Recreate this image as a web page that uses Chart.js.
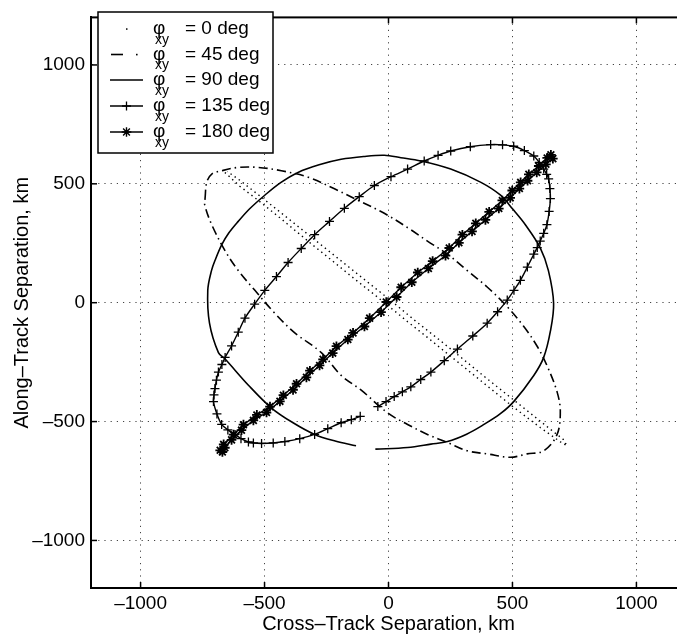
<!DOCTYPE html>
<html><head><meta charset="utf-8">
<script src="https://cdn.jsdelivr.net/npm/chart.js@4.4.0/dist/chart.umd.min.js"></script>
<style>
html,body{margin:0;padding:0;background:#fff;overflow:hidden;width:677px;height:639px}
#wrap{position:absolute;left:0;top:0;width:700px;height:639px}
</style>
</head><body>
<div id="wrap"><canvas id="c" width="700" height="639"></canvas></div>
<script>
// ---------- data ----------
const tickValues = [-1000, -500, 0, 500, 1000];
const tickLabels = ['–1000', '–500', '0', '500', '1000'];
const legendPhases = ['0 deg', '45 deg', '90 deg', '135 deg', '180 deg'];
const xTitle = 'Cross–Track Separation, km';
const yTitle = 'Along–Track Separation, km';

// phi_xy = 0 deg (dotted, thin back-and-forth strand)
const phi0X = [-660,-600,-525,-432,-378,-298,-231,-137,-57,40,77,157,211,318,398,505,612,693,720,
               705,650,560,470,380,290,200,110,20,-70,-160,-250,-340,-430,-520,-600,-650];
const phi0Y = [548,490,430,352,305,236,180,100,34,-48,-80,-146,-192,-282,-350,-440,-525,-585,-602,
               -575,-530,-455,-380,-305,-228,-152,-78,0,75,150,225,300,375,450,515,552];

// phi_xy = 45 deg (dash-dot)
const phi45X = [-740,-733,-713,-673,-606,-525,-432,-324,-218,-124,-17,90,157,238,318,398,479,545,599,639,680,693,680,626,559,492,398,318,238,157,77,-3,-110,-191,-271,-378,-459,-539,-606,-659,-713,-741,-740];
const phi45Y = [438,507,541,555,569,569,555,528,479,431,376,307,259,204,135,66,-17,-99,-182,-264,-375,-457,-554,-623,-636,-650,-636,-623,-588,-554,-512,-464,-368,-306,-210,-127,-44,52,135,218,328,410,438];

// phi_xy = 90 deg (solid)
const phi90X = [-53,77,171,238,315,385,450,505,586,626,653,666,645,612,552,500,452,371,251,131,50,-17,-100,-191,-280,-365,-435,-499,-560,-606,-645,-672,-697,-714,-729,-722,-686,-659,-565,-472,-385,-298,-215,-131];
const phi90Y = [-616,-609,-595,-584,-553,-512,-468,-416,-306,-230,-120,-3,135,231,328,395,452,507,562,596,610,620,615,603,580,548,505,452,395,342,292,245,185,135,52,-86,-210,-237,-347,-443,-505,-554,-582,-602];

// phi_xy = 135 deg (solid with + markers)
const phi135X = [-114,-150,-191,-245,-298,-358,-418,-465,-512,-545,-565,-595,-619,-648,-673,-692,-706,-704,-700,-694,-686,-672,-659,-633,-606,-579,-540,-499,-452,-405,-352,-298,-238,-178,-118,-57,10,77,144,200,251,330,412,460,505,548,586,608,626,638,646,651,653,648,639,626,612,600,586,560,532,506,479,440,398,340,278,225,171,130,90,56,23,-10,-43];
const phi135Y = [-478,-492,-505,-530,-554,-572,-584,-590,-592,-590,-586,-572,-554,-535,-512,-468,-416,-388,-361,-326,-292,-260,-230,-182,-124,-65,-6,52,110,169,228,286,342,397,446,493,530,562,596,620,638,656,665,664,658,640,617,590,562,540,521,480,438,384,328,292,259,232,204,150,94,52,11,-38,-86,-140,-195,-244,-292,-323,-354,-375,-395,-416,-437];

// phi_xy = 180 deg (solid with * markers, out and back along a very thin loop)
const phi180X = [-679,-665,-625,-585,-531,-478,-424,-371,-317,-264,-210,-143,-76,-9,51,118,178,245,298,352,406,459,499,533,566,606,640,655,
                 663,635,598,561,528,491,445,391,337,284,230,161,94,33,-30,-97,-164,-225,-278,-331,-385,-438,-492,-545,-593,-633,-660,-670];
const phi180Y = [-621,-596,-555,-513,-472,-437,-389,-341,-286,-238,-183,-127,-65,3,65,127,175,230,286,334,382,430,472,506,540,575,609,622,
                 606,582,548,513,480,441,396,348,300,252,198,144,86,24,-40,-100,-155,-212,-264,-314,-367,-415,-462,-495,-536,-577,-610,-628];

// ---------- chart ----------
const pts = (xs, ys) => xs.map((x, i) => ({x: x, y: ys[i]}));
const FONT = '"Liberation Sans", Arial, Helvetica, sans-serif';

const styles = [
  {borderDash: [1.4, 3.6], borderWidth: 1.4, pointStyle: false, pointRadius: 0, tension: 0},
  {borderDash: [9, 4, 1.5, 4], borderWidth: 1.6, pointStyle: false, pointRadius: 0, tension: 0.35},
  {borderDash: [], borderWidth: 1.6, pointStyle: false, pointRadius: 0, tension: 0.35},
  {borderDash: [], borderWidth: 1.4, pointStyle: 'cross', pointRadius: 4.5, pointBorderWidth: 1.3, tension: 0.3},
  {borderDash: [], borderWidth: 1.4, pointStyle: 'star', pointRadius: 4.8, pointBorderWidth: 1.8, tension: 0}
];
const seriesX = [phi0X, phi45X, phi90X, phi135X, phi180X];
const seriesY = [phi0Y, phi45Y, phi90Y, phi135Y, phi180Y];

const datasets = seriesX.map((xs, i) => Object.assign({
  label: 'φxy = ' + legendPhases[i],
  data: pts(xs, seriesY[i]),
  showLine: true,
  borderColor: '#000',
  backgroundColor: '#000',
  pointBorderColor: '#000',
  pointBackgroundColor: '#000'
}, styles[i]));

const framePlugin = {
  id: 'frame',
  afterDraw(chart) {
    const ctx = chart.ctx, a = chart.chartArea;
    const xs = chart.scales.x, ys = chart.scales.y;
    ctx.save();
    ctx.strokeStyle = '#000';
    ctx.lineWidth = 2;
    ctx.setLineDash([]);
    ctx.strokeRect(a.left, a.top, a.right - a.left, a.bottom - a.top);
    ctx.lineWidth = 1.5;
    const L = 6;
    tickValues.forEach(v => {
      const px = xs.getPixelForValue(v);
      ctx.beginPath(); ctx.moveTo(px, a.bottom); ctx.lineTo(px, a.bottom - L); ctx.stroke();
      ctx.beginPath(); ctx.moveTo(px, a.top); ctx.lineTo(px, a.top + L); ctx.stroke();
      const py = ys.getPixelForValue(v);
      ctx.beginPath(); ctx.moveTo(a.left, py); ctx.lineTo(a.left + L, py); ctx.stroke();
      ctx.beginPath(); ctx.moveTo(a.right, py); ctx.lineTo(a.right - L, py); ctx.stroke();
    });
    // legend
    const bx = 98, by = 12, bw = 175, bh = 141;
    ctx.fillStyle = '#fff';
    ctx.fillRect(bx, by, bw, bh);
    ctx.lineWidth = 1.5;
    ctx.strokeRect(bx, by, bw, bh);
    const rowY = [29, 54.5, 80, 106, 132];
    rowY.forEach((y, i) => {
      const st = styles[i];
      ctx.save();
      ctx.strokeStyle = '#000';
      ctx.lineWidth = st.borderWidth;
      if (i === 0) {
        ctx.fillStyle = '#000';
        ctx.fillRect(126, y - 0.7, 1.5, 1.5);
      } else if (i === 1) {
        ctx.beginPath(); ctx.moveTo(111, y); ctx.lineTo(123, y); ctx.stroke();
        ctx.fillStyle = '#000';
        ctx.fillRect(136, y - 0.7, 1.6, 1.6);
      } else {
        ctx.beginPath(); ctx.moveTo(110, y); ctx.lineTo(143, y); ctx.stroke();
      }
      if (i === 3) {
        ctx.lineWidth = 1.3;
        ctx.beginPath(); ctx.moveTo(126.5 - 4.5, y); ctx.lineTo(126.5 + 4.5, y);
        ctx.moveTo(126.5, y - 4.5); ctx.lineTo(126.5, y + 4.5); ctx.stroke();
      }
      if (i === 4) {
        Chart.helpers.drawPoint(ctx, {pointStyle: 'star', radius: 4.8, borderWidth: 1.8, rotation: 0}, 126.5, y);
      }
      ctx.fillStyle = '#000';
      ctx.textBaseline = 'middle';
      ctx.textAlign = 'left';
      ctx.font = '19px ' + FONT;
      ctx.fillText('φ', 153, y);
      ctx.font = '14px ' + FONT;
      ctx.fillText('xy', 155, y + 11);
      ctx.font = '19px ' + FONT;
      ctx.fillText('= ' + legendPhases[i], 185, y);
      ctx.restore();
    });
    ctx.restore();
  }
};

const axisCommon = (title, isX) => ({
  type: 'linear',
  min: -1200, max: 1200,
  afterBuildTicks: s => { s.ticks = tickValues.map(v => ({value: v})); },
  afterFit: s => { if (isX) s.height = 51; else s.width = 91; },
  grid: {color: '#444', lineWidth: 1, drawTicks: false},
  border: {display: true, color: '#000', width: 2, dash: [1.2, 5]},
  ticks: {
    color: '#000',
    font: {family: FONT, size: 19},
    padding: isX ? 4 : 6,
    maxRotation: 0,
    autoSkip: false,
    callback: v => { const k = tickValues.indexOf(v); return k >= 0 ? tickLabels[k] : ''; }
  },
  title: {
    display: true, text: title, color: '#000',
    font: {family: FONT, size: 20},
    padding: isX ? {top: 0, bottom: 3} : {top: 10, bottom: 0}
  }
});

new Chart(document.getElementById('c'), {
  type: 'scatter',
  data: {datasets: datasets},
  options: {
    responsive: false,
    animation: false,
    events: [],
    layout: {padding: {left: 0, top: 5, right: 14, bottom: 0}},
    plugins: {legend: {display: false}, tooltip: {enabled: false}},
    scales: {x: axisCommon(xTitle, true), y: axisCommon(yTitle, false)}
  },
  plugins: [framePlugin]
});
</script>
</body></html>
